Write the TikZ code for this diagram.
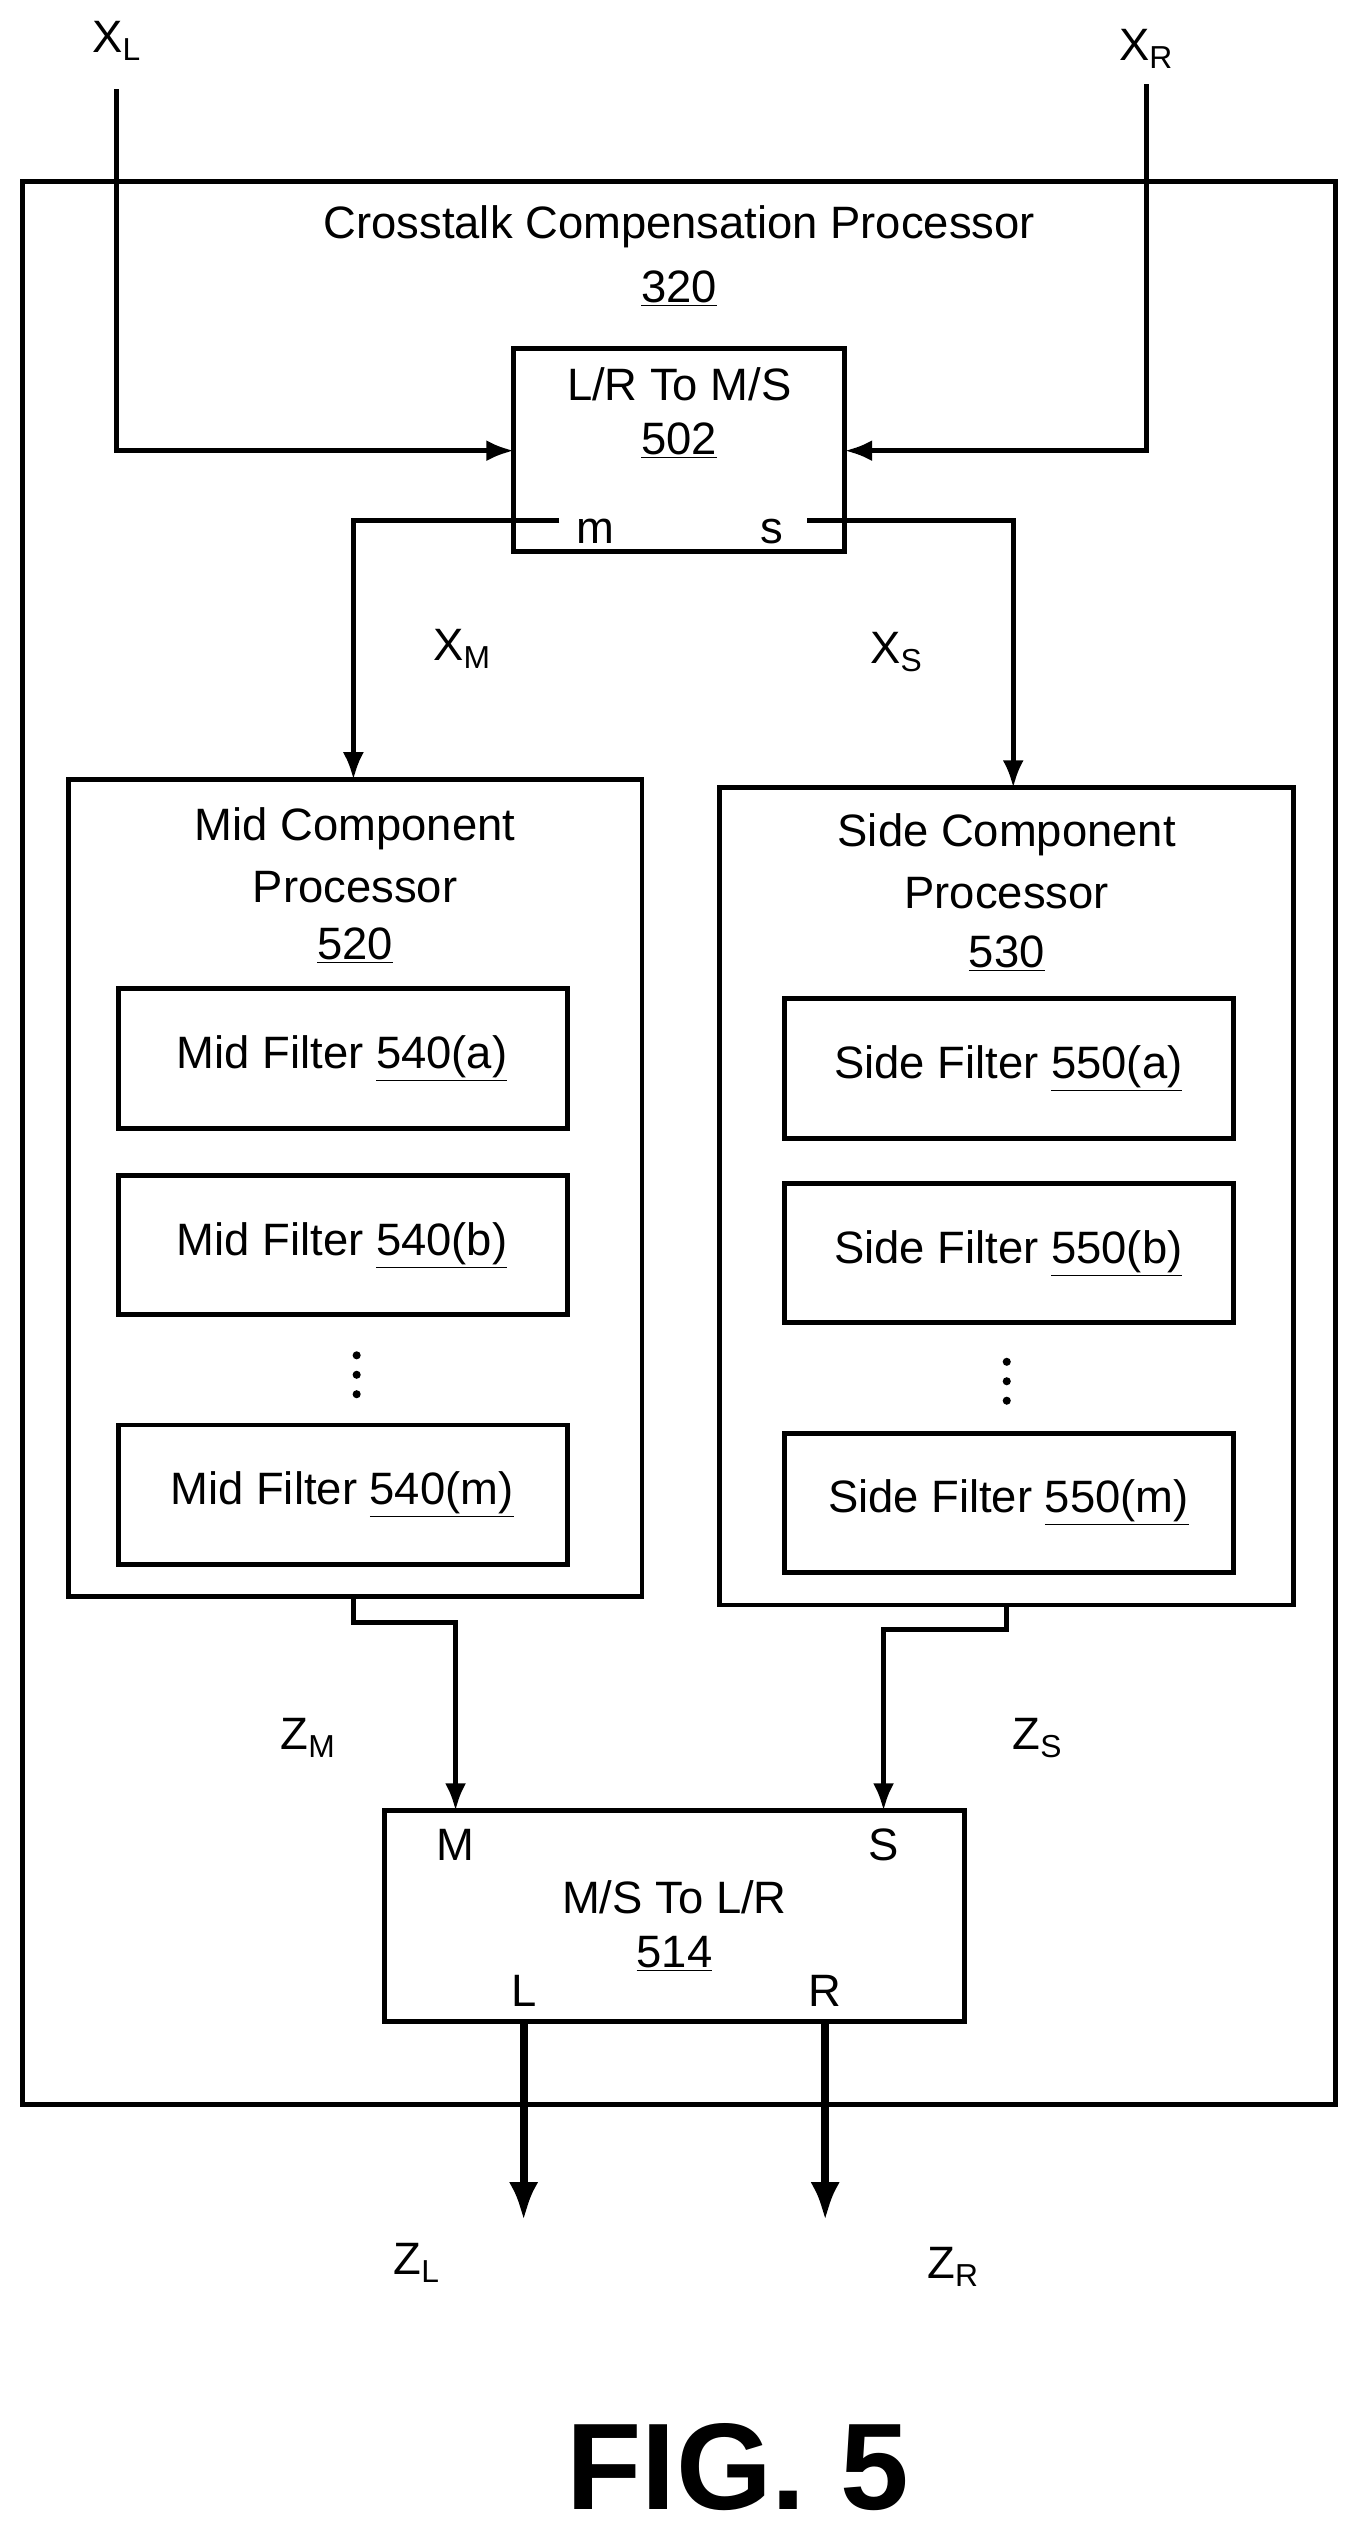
\documentclass[tikz,border=0pt]{standalone}
\usepackage{fontspec}
\setmainfont{Liberation Sans}
\usetikzlibrary{positioning,arrows.meta}
\tikzset{
    blk/.style = {draw, line width=3pt},
    txt/.style = {font=\fontsize{28}{34}\selectfont, inner sep=0pt, align=center},
    sig/.style = {line width=3pt, -{Latex[length=17pt,width=13pt]}},
    outsig/.style = {line width=5pt, -{Latex[length=24pt,width=18pt]}},
    dot/.style = {fill, circle, inner sep=0pt, minimum size=5pt}
}
\begin{document}
\begin{tikzpicture}[x=1pt,y=-1pt]
    \useasboundingbox (0,0) rectangle (838,1568);
    % outer processor
    \draw [blk] (14,112) rectangle (824,1298);
    \node[txt] (ccp) at (419,140) {Crosstalk Compensation Processor};
    \node[txt] (ccpn) at (419,178) {\underline{320}};

    % L/R to M/S
    \draw [blk] (317,215) rectangle (521,340);
    \node[txt] (lrms) at (419,237) {L/R To M/S};
    \node[txt] at (419,272) {\underline{502}};
    \node[txt] (pm) at (367,328) {m};
    \node[txt] (ps) at (476,328) {s};
    \coordinate (lrmsW) at (317,278);
    \coordinate (lrmsE) at (521,278);

    \node[txt] (xl) at (72,25) {X\textsubscript{L}};
    \node[txt] (xr) at (707,30) {X\textsubscript{R}};
    \draw [sig] (72,55) |- (lrmsW);
    \draw [sig] (707,52) |- (lrmsE);

    % mid processor
    \draw [blk] (42,481) rectangle (396,985);
    \node[txt] (mcp) at (219,511) {Mid Component};
    \node[txt] at (219,547) {Processor};
    \node[txt] at (219,583) {\underline{520}};
    \foreach \y/\t in {610/a, 725/b, 879/m} {
        \draw [blk] (73,\y) rectangle (350,\y+86);
        \node[txt] (mf\t) at (211,\y+43) {Mid Filter \underline{540(\t)}};
    }
    \foreach \y [count=\i] in {836,848,860} \node[dot] (md\i) at (220,\y) {};

    % side processor
    \draw [blk] (444,486) rectangle (798,990);
    \node[txt] (scp) at (621,515) {Side Component};
    \node[txt] at (621,551) {Processor};
    \node[txt] at (621,588) {\underline{530}};
    \foreach \y/\t in {616/a, 730/b, 884/m} {
        \draw [blk] (484,\y) rectangle (761,\y+86);
        \node[txt] (sf\t) at (622,\y+43) {Side Filter \underline{550(\t)}};
    }
    \foreach \y [count=\i] in {840,852,864} \node[dot] (sd\i) at (621,\y) {};

    % m and s to processors
    \draw [sig] (345,321) -| (218,481);
    \draw [sig] (498,321) -| (625,486);
    \node[txt] (xm) at (285,400) {X\textsubscript{M}};
    \node[txt] (xs) at (553,402) {X\textsubscript{S}};

    % M/S to L/R
    \draw [blk] (237,1117) rectangle (595,1247);
    \node[txt] (pM) at (281,1138) {M};
    \node[txt] (pS) at (545,1138) {S};
    \node[txt] (msl) at (416,1170) {M/S To L/R};
    \node[txt] at (416,1205) {\underline{514}};
    \node[txt] (pL) at (323,1228) {L};
    \node[txt] (pR) at (509,1228) {R};

    \draw [sig] (218,985) -- (218,1001) -- (281,1001) -- (281,1117);
    \draw [sig] (621,990) -- (621,1005) -- (545,1005) -- (545,1117);
    \node[txt] (zm) at (190,1072) {Z\textsubscript{M}};
    \node[txt] (zs) at (640,1072) {Z\textsubscript{S}};

    \draw [outsig] (323,1247) -- (323,1370);
    \draw [outsig] (509,1247) -- (509,1370);
    \node[txt] (zl) at (257,1396) {Z\textsubscript{L}};
    \node[txt] (zr) at (588,1398) {Z\textsubscript{R}};

    \node[txt, font=\fontsize{76}{80}\selectfont\bfseries] (fig) at (455,1522) {FIG. 5};
\end{tikzpicture}
\end{document}
